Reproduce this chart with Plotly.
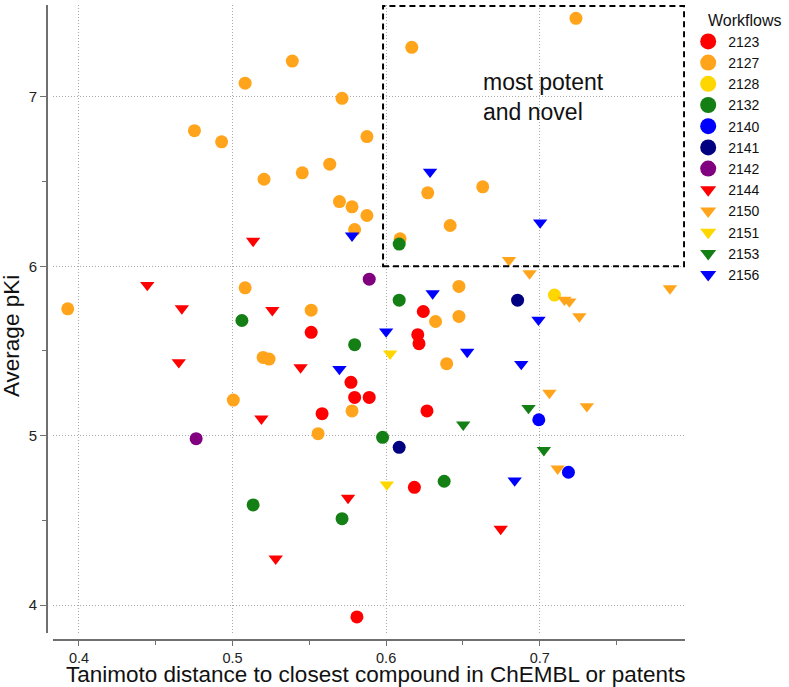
import plotly.graph_objects as go

# distance to closest known compound (x) and average pKi (y), per workflow
x_2123 = [0.5512, 0.6242, 0.6206, 0.6214, 0.5771, 0.5795, 0.5890, 0.5583, 0.6266, 0.6184, 0.5810]
y_2123 = [5.610, 5.733, 5.596, 5.543, 5.315, 5.226, 5.226, 5.130, 5.146, 4.695, 3.930]

x_2127 = [0.3927, 0.5082, 0.5389, 0.5713, 0.4752, 0.4929, 0.5875, 0.5633, 0.5454, 0.5205,
          0.5696, 0.5778, 0.5875, 0.5795, 0.5082, 0.5512, 0.7236, 0.6167, 0.6271, 0.6629,
          0.6417, 0.6091, 0.6474, 0.6322, 0.6474, 0.6394, 0.5199, 0.5238, 0.5005, 0.5778, 0.5557]
y_2127 = [5.749, 7.081, 7.212, 6.992, 6.801, 6.735, 6.766, 6.603, 6.552, 6.514,
          6.382, 6.351, 6.300, 6.217, 5.873, 5.741, 7.464, 7.293, 6.434, 6.469,
          6.241, 6.162, 5.881, 5.674, 5.704, 5.425, 5.462, 5.452, 5.210, 5.146, 5.012]

x_2128 = [0.7096]
y_2128 = [5.830]

x_2132 = [0.5061, 0.5795, 0.6085, 0.6085, 0.5977, 0.6378, 0.5134, 0.5713]
y_2132 = [5.680, 5.537, 6.131, 5.800, 4.990, 4.731, 4.591, 4.510]

x_2140 = [0.6994, 0.7187]
y_2140 = [5.094, 4.784]

x_2141 = [0.6856, 0.6085]
y_2141 = [5.800, 4.931]

x_2142 = [0.5890, 0.4763]
y_2142 = [5.924, 4.982]

x_2144 = [0.5134, 0.4445, 0.4670, 0.5259, 0.4650, 0.5443, 0.5188, 0.5752, 0.5281, 0.6746]
y_2144 = [6.150, 5.889, 5.751, 5.741, 5.433, 5.403, 5.100, 4.632, 4.274, 4.449]

x_2150 = [0.6800, 0.6934, 0.7848, 0.7161, 0.7193, 0.7258, 0.7063, 0.7307, 0.7117]
y_2150 = [6.036, 5.958, 5.869, 5.802, 5.792, 5.704, 5.252, 5.173, 4.805]

x_2151 = [0.6026, 0.6005]
y_2151 = [5.484, 4.711]

x_2153 = [0.6927, 0.6502, 0.7027]
y_2153 = [5.163, 5.065, 4.914]

x_2156 = [0.5778, 0.6286, 0.7003, 0.6303, 0.6992, 0.6000, 0.6528, 0.6880, 0.5696, 0.6837]
y_2156 = [6.181, 6.558, 6.258, 5.840, 5.684, 5.615, 5.494, 5.423, 5.393, 4.735]

workflows = ["2123", "2127", "2128", "2132", "2140", "2141", "2142",
             "2144", "2150", "2151", "2153", "2156"]
xs = [x_2123, x_2127, x_2128, x_2132, x_2140, x_2141, x_2142,
      x_2144, x_2150, x_2151, x_2153, x_2156]
ys = [y_2123, y_2127, y_2128, y_2132, y_2140, y_2141, y_2142,
      y_2144, y_2150, y_2151, y_2153, y_2156]
colors = ["#ff0000", "#ffa41b", "#ffd700", "#147f14", "#0000ff", "#000080", "#800080",
          "#ff0000", "#ffa41b", "#ffd700", "#147f14", "#0000ff"]
symbols = ["circle"] * 7 + ["triangle-down"] * 5

x_ticks = [0.4, 0.5, 0.6, 0.7]
y_ticks = [4, 5, 6, 7]

# "most potent and novel" region
box_x0, box_x1 = 0.598, 0.794
box_y0, box_y1 = 6.0, 7.537

fig = go.Figure()

for name, x, y, c, s in zip(workflows, xs, ys, colors, symbols):
    size = 13 if s == "circle" else 12.5
    fig.add_trace(go.Scatter(x=x, y=y, mode="markers", name=name, showlegend=False,
                             marker=dict(color=c, symbol=s, size=size, line=dict(width=0))))

# bigger markers for the legend
for name, c, s in zip(workflows, colors, symbols):
    size = 16 if s == "circle" else 14
    fig.add_trace(go.Scatter(x=[None], y=[None], mode="markers", name=name,
                             marker=dict(color=c, symbol=s, size=size, line=dict(width=0))))

fig.add_shape(type="rect", xref="x", yref="y", x0=box_x0, x1=box_x1, y0=box_y0, y1=box_y1,
              line=dict(color="black", width=2, dash="6px,4px"))

fig.add_annotation(x=0.6616, y=7.0, xref="x", yref="y", text="most potent<br>and novel",
                   showarrow=False, xanchor="left", align="left",
                   font=dict(size=23, color="#111111"))

# axis titles as annotations so they sit where the reference has them
fig.add_annotation(x=0.516, y=-0.054, xref="paper", yref="paper",
                   text="Tanimoto distance to closest compound in ChEMBL or patents",
                   showarrow=False, xanchor="center", yanchor="middle",
                   font=dict(size=22.5, color="#111111"))
fig.add_annotation(x=-0.0546, y=0.479, xref="paper", yref="paper", text="Average pKi",
                   showarrow=False, textangle=-90, xanchor="center", yanchor="middle",
                   font=dict(size=22.5, color="#111111"))

grid = dict(showgrid=True, gridcolor="#aaaaaa", griddash="1px,2px", gridwidth=1)

fig.update_layout(
    width=789, height=687,
    margin=dict(l=47, r=101, t=5, b=47),
    plot_bgcolor="white", paper_bgcolor="white",
    font=dict(family="Liberation Sans, Arial", color="#222222"),
    xaxis=dict(
        range=[0.3831, 0.7946], domain=[0.0094, 1], anchor="free", position=0,
        tickvals=x_ticks, ticktext=[str(v) for v in x_ticks], **grid,
        showline=True, linecolor="#707070", linewidth=2,
        ticks="outside", ticklen=5, tickcolor="#707070", tickwidth=1,
        minor=dict(tickvals=[0.45, 0.55, 0.65, 0.75], ticks="outside", ticklen=4,
                   tickcolor="#707070", showgrid=False),
        tickfont=dict(size=14.5, color="#222222"), zeroline=False,
    ),
    yaxis=dict(
        range=[3.8348, 7.5428], domain=[0.011, 1], anchor="free", position=0,
        tickvals=y_ticks, ticktext=[str(v) for v in y_ticks], **grid,
        showline=True, linecolor="#707070", linewidth=2,
        ticks="outside", ticklen=6, tickcolor="#707070", tickwidth=1,
        minor=dict(tickvals=[4.5, 5.5, 6.5], ticks="outside", ticklen=4,
                   tickcolor="#707070", showgrid=False),
        tickfont=dict(size=15, color="#222222"), zeroline=False,
    ),
    legend=dict(x=1.005, y=1.0, xanchor="left", yanchor="top",
                title=dict(text="&nbsp;&nbsp;&nbsp;&nbsp;Workflows",
                           font=dict(size=16, color="#111111"), side="top"),
                font=dict(size=14, color="#111111"), tracegroupgap=0,
                bgcolor="rgba(0,0,0,0)"),
)

fig.write_html("out.html", config={"displayModeBar": False},
               post_script="document.body.style.margin='0';")
